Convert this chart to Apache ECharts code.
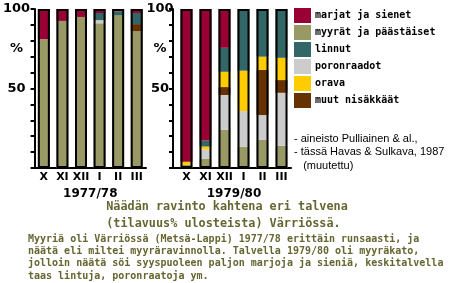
<!DOCTYPE html>
<html><head><meta charset="utf-8">
<script src="https://cdn.jsdelivr.net/npm/echarts@6/dist/echarts.min.js"></script>
<style>html,body{margin:0;padding:0;background:#fff}#c{width:454px;height:283px}</style>
</head><body><div id="c"></div>
<script>
// ---- data ----
const months = ['X', 'XI', 'XII', 'I', 'II', 'III'];
const winters = ['1977/78', '1979/80'];
const seriesNames = ['marjat ja sienet', 'myyrät ja päästäiset', 'linnut', 'poronraadot', 'orava', 'muut nisäkkäät'];
const yTickLabels = [50, 75, 100];
// 1977/78 (volume % of scats)
const w1_myyrat = [81, 92.5, 95, 91, 96, 86];
const w1_poro = [0, 0, 0, 2, 0, 0];
const w1_muut = [0, 0, 0, 0, 0, 4.5];
const w1_orava = [0, 0, 0, 0, 0, 0];
const w1_linnut = [0, 0, 0, 4.5, 2.5, 7];
const w1_marjat = [19, 7.5, 5, 2.5, 1.5, 2.5];
// 1979/80
const w2_myyrat = [2, 5.7, 24.1, 13.4, 17.8, 14];
const w2_poro = [0, 5.9, 21.8, 22.4, 15.5, 33.3];
const w2_muut = [0, 0, 5, 0, 28.5, 8];
const w2_orava = [2, 1.9, 9.6, 25.4, 8.2, 14];
const w2_linnut = [0, 3.8, 15.1, 38.8, 30, 30.7];
const w2_marjat = [96, 82.7, 24.4, 0, 0, 0];
const barTotal = [100, 100, 100, 100, 100, 100];

const colors = {
  'marjat ja sienet': '#990033',
  'myyrät ja päästäiset': '#999966',
  'linnut': '#336666',
  'poronraadot': '#cccccc',
  'orava': '#ffcc00',
  'muut nisäkkäät': '#663300'
};
const olive = '#666633';
const labelFont = {fontFamily: 'DejaVu Sans', fontWeight: 'bold', fontSize: 12, color: '#000'};

function stackSeries(idx, d) {
  // bottom-to-top order
  const order = [
    ['myyrät ja päästäiset', d.myyrat],
    ['poronraadot', d.poro],
    ['muut nisäkkäät', d.muut],
    ['orava', d.orava],
    ['linnut', d.linnut],
    ['marjat ja sienet', d.marjat]
  ];
  const out = order.map(([n, v]) => ({
    name: n, type: 'bar', stack: 's' + idx, xAxisIndex: idx, yAxisIndex: idx,
    data: v, barWidth: 12, itemStyle: {color: colors[n]}, silent: true, animation: false
  }));
  out.push({
    name: 'outline' + idx, type: 'bar', xAxisIndex: idx, yAxisIndex: idx, data: barTotal,
    barWidth: 12, barGap: '-100%', z: 5, silent: true, animation: false,
    itemStyle: {color: 'rgba(0,0,0,0)', borderColor: '#000', borderWidth: 2}
  });
  return out;
}

function yAxisDef(idx, offset, margin) {
  return {
    type: 'value', gridIndex: idx, min: 0, max: 100, interval: 10, offset: offset,
    axisLine: {show: true, lineStyle: {color: '#000', width: 2}},
    axisTick: {show: true, length: 4, lineStyle: {color: '#000', width: 2}},
    splitLine: {show: false},
    axisLabel: {
      customValues: yTickLabels, margin: margin, align: 'center',
      fontFamily: 'DejaVu Sans', fontWeight: 'bold', fontSize: 13, color: '#000',
      formatter: v => (v === 75 ? '%' : String(v))
    }
  };
}
function xAxisDef(idx, name) {
  return {
    type: 'category', gridIndex: idx, data: months,
    axisLine: {show: true, lineStyle: {color: '#000', width: 2}},
    axisTick: {show: false},
    axisLabel: {interval: 0, margin: 4, fontFamily: 'DejaVu Sans', fontWeight: 'bold', fontSize: 11, color: '#000', hideOverlap: false},
    name: name, nameLocation: 'middle', nameGap: 16,
    nameTextStyle: Object.assign({}, labelFont, {fontSize: 12, verticalAlign: 'top'})
  };
}

const chart = echarts.init(document.getElementById('c'), null, {renderer: 'canvas'});
chart.setOption({
  backgroundColor: '#fff',
  animation: false,
  grid: [
    {left: 32, top: 9, width: 114, height: 159},
    {left: 177, top: 9, width: 114, height: 159}
  ],
  xAxis: [xAxisDef(0, winters[0]), xAxisDef(1, winters[1])],
  yAxis: [yAxisDef(0, 0, 18), yAxisDef(1, 4, 13)],
  legend: {
    data: seriesNames, orient: 'vertical', left: 294, top: 8, padding: 0,
    itemWidth: 17, itemHeight: 15, itemGap: 2, icon: 'rect', selectedMode: false,
    textStyle: {fontFamily: 'DejaVu Sans Mono', fontWeight: 'bold', fontSize: 10, color: '#000', padding: [0, 0, 0, -1]}
  },
  series: [].concat(
    stackSeries(0, {myyrat: w1_myyrat, poro: w1_poro, muut: w1_muut, orava: w1_orava, linnut: w1_linnut, marjat: w1_marjat}),
    stackSeries(1, {myyrat: w2_myyrat, poro: w2_poro, muut: w2_muut, orava: w2_orava, linnut: w2_linnut, marjat: w2_marjat})
  ),
  graphic: [
    {type: 'line', shape: {x1: 172, y1: 168, x2: 178, y2: 168}, style: {stroke: '#000', lineWidth: 2}, silent: true},
    {type: 'text', left: 294, top: 132, silent: true,
      style: {text: '- aineisto Pulliainen & al.,\n- tässä Havas & Sulkava, 1987\n   (muutettu)', fontFamily: 'Liberation Sans', fontSize: 11, lineHeight: 13.5, fill: '#000'}},
    {type: 'text', left: 'center', top: 198, silent: true,
      style: {text: 'Näädän ravinto kahtena eri talvena\n(tilavuus% ulosteista) Värriössä.', align: 'center', fontFamily: 'DejaVu Sans Mono', fontWeight: 'bold', fontSize: 11.8, lineHeight: 17, fill: olive}},
    {type: 'text', left: 28, top: 233, silent: true,
      style: {text: 'Myyriä oli Värriössä (Metsä-Lappi) 1977/78 erittäin runsaasti, ja\nnäätä eli miltei myyräravinnolla. Talvella 1979/80 oli myyräkato,\njolloin näätä söi syyspuoleen paljon marjoja ja sieniä, keskitalvella\ntaas lintuja, poronraatoja ym.', fontFamily: 'DejaVu Sans Mono', fontWeight: 'bold', fontSize: 10, lineHeight: 12.3, fill: olive}}
  ]
});
</script></body></html>
